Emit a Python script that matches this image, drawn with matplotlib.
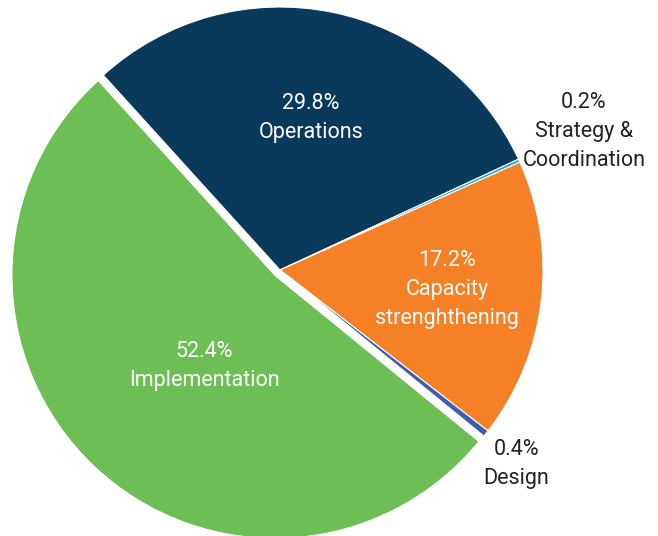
import matplotlib.pyplot as plt
import numpy as np

plt.rcParams['font.family'] = ['Roboto', 'DejaVu Sans']

# Data
categories = ["Operations", "Strategy &\nCoordination", "Capacity\nstrenghthening", "Design", "Implementation"]
shares = [29.8, 0.2, 17.2, 0.4, 52.4]
colors = ["#093a5c", "#1fa9e1", "#f58025", "#3c5eab", "#6dbe55"]
explode = [0, 0, 0, 0, 0.028]
label_dist = [0.59, 1.27, 0.64, 1.164, 0.437]
label_turn = [0, 0, 0, -1.0, 5.4]   # degrees, nudges label off the mid angle
label_color = ["white", "#222222", "white", "#222222", "white"]

W, H = 658, 536
fig = plt.figure(figsize=(W / 100, H / 100), dpi=100)
ax = fig.add_axes([0, 0, 1, 1])

cx, cy, r = 280, H - 270, 263
# pie's explode is in data units, so scale it by the radius
wedges, _ = ax.pie(shares, colors=colors, explode=[e * r for e in explode],
                   startangle=132.2, counterclock=False, center=(cx, cy), radius=r,
                   wedgeprops=dict(edgecolor="white", linewidth=0.8))
ax.set_xlim(0, W)
ax.set_ylim(0, H)
ax.set_aspect("equal")
ax.axis("off")

# labels placed along each wedge's mid angle
for w, cat, val, d, t, c in zip(wedges, categories, shares, label_dist, label_turn, label_color):
    mid = np.deg2rad((w.theta1 + w.theta2) / 2 + t)
    x0, y0 = w.center
    x = x0 + d * r * np.cos(mid)
    y = y0 + d * r * np.sin(mid)
    ax.text(x, y, f"{val}%\n{cat}", ha="center", va="center", color=c,
            fontsize=15.5, linespacing=1.5)

fig.savefig("out.png", dpi=100)
